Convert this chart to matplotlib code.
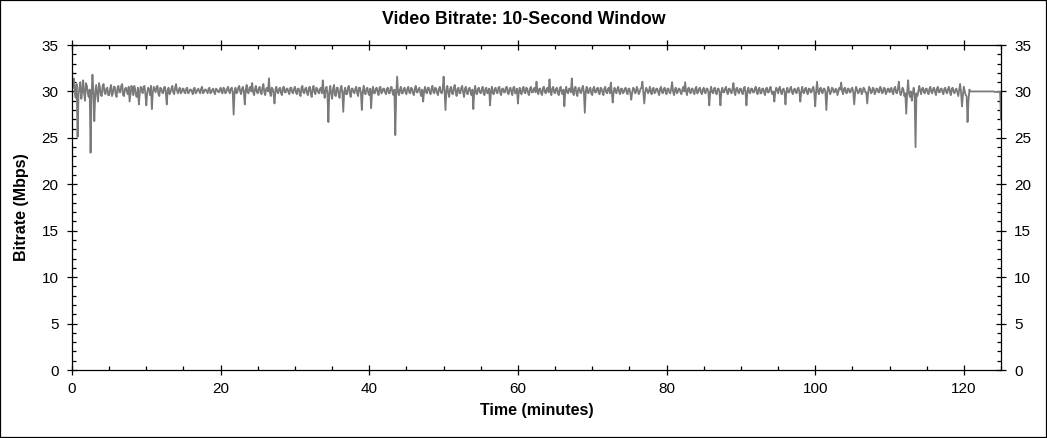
import numpy as np
import matplotlib
matplotlib.use("Agg")
import matplotlib.pyplot as plt
from matplotlib.ticker import MultipleLocator
from matplotlib.patches import Rectangle

plt.rcParams['font.family'] = ['Liberation Sans', 'DejaVu Sans']

title = "Video Bitrate: 10-Second Window"
xlabel = "Time (minutes)"
ylabel = "Bitrate (Mbps)"
x_ticks = [0, 20, 40, 60, 80, 100, 120]
y_ticks = [0, 5, 10, 15, 20, 25, 30, 35]

time_step_min = 0.25  # samples on the quarter minute
bitrate_mbps = [
    # 0.00 - 4.75
    30.2, 31.4, 29.3, 25.1, 30.4, 29.2, 31.2, 29.0, 30.6, 29.4, 23.4, 31.8, 26.8, 30.7, 28.9, 30.5, 29.5, 30.8, 29.7, 30.4,
    # 5.00 - 9.75
    29.6, 30.7, 29.8, 30.5, 29.4, 30.6, 29.9, 30.8, 29.5, 30.4, 29.7, 28.9, 30.6, 29.6, 30.3, 29.4, 28.6, 30.5, 29.8, 30.6,
    # 10.00 - 14.75
    28.5, 30.4, 29.6, 28.1, 30.5, 29.9, 30.6, 29.5, 30.3, 29.8, 30.5, 28.6, 30.4, 29.9, 30.6, 29.7, 30.8, 29.8, 30.4, 29.9,
    # 15.00 - 19.75
    30.3, 29.8, 30.4, 29.9, 30.2, 29.7, 30.4, 29.9, 30.3, 29.8, 30.5, 29.9, 30.2, 29.8, 30.4, 29.9, 30.3, 29.7, 30.2, 29.9,
    # 20.00 - 24.75
    30.4, 29.8, 30.3, 29.9, 30.5, 29.8, 30.4, 27.5, 30.4, 29.9, 30.6, 29.7, 30.5, 28.6, 30.7, 29.8, 30.5, 30.9, 29.6, 30.6,
    # 25.00 - 29.75
    29.8, 30.5, 29.7, 30.8, 29.6, 30.4, 31.4, 29.5, 30.3, 28.7, 30.5, 29.8, 30.4, 29.6, 30.5, 29.9, 30.3, 29.7, 30.4, 29.8,
    # 30.00 - 34.75
    30.5, 29.7, 30.3, 29.5, 30.6, 29.8, 30.4, 29.6, 30.5, 29.4, 30.6, 29.7, 30.3, 29.8, 30.4, 31.2, 29.3, 30.5, 26.7, 30.6,
    # 35.00 - 39.75
    29.2, 30.7, 29.5, 30.4, 29.3, 30.6, 27.8, 30.4, 29.7, 30.6, 29.4, 30.3, 29.8, 30.5, 29.5, 30.4, 28.0, 30.6, 29.7, 30.4,
    # 40.00 - 44.75
    29.6, 28.2, 30.5, 29.8, 30.4, 29.6, 30.5, 29.9, 30.3, 29.7, 30.4, 29.8, 30.5, 29.6, 25.3, 31.6, 29.6, 30.5, 29.8, 30.4,
    # 45.00 - 49.75
    29.7, 30.5, 29.8, 30.3, 29.6, 30.6, 29.9, 30.4, 29.5, 28.9, 30.5, 29.8, 30.4, 29.7, 30.6, 29.8, 30.3, 29.6, 30.5, 29.8,
    # 50.00 - 54.75
    31.6, 28.0, 30.6, 29.4, 30.5, 29.7, 30.7, 29.5, 30.4, 29.8, 30.6, 29.4, 30.5, 29.7, 30.4, 29.6, 28.1, 30.6, 29.7, 30.4,
    # 55.00 - 59.75
    29.8, 30.5, 29.6, 30.4, 29.9, 28.5, 30.5, 29.7, 30.4, 29.8, 30.5, 29.6, 30.3, 29.9, 30.5, 29.7, 30.4, 29.6, 30.5, 29.8,
    # 60.00 - 64.75
    28.7, 30.4, 29.7, 30.5, 29.8, 30.3, 29.6, 30.5, 29.9, 30.4, 31.05, 29.7, 30.3, 29.6, 30.5, 29.8, 30.4, 31.3, 29.6, 30.5,
    # 65.00 - 69.75
    29.8, 30.4, 29.6, 30.5, 29.7, 28.4, 30.5, 29.8, 30.3, 31.4, 29.6, 30.5, 29.5, 30.4, 29.8, 30.6, 27.7, 30.5, 29.8, 30.4,
    # 70.00 - 74.75
    29.6, 30.5, 29.9, 30.4, 29.7, 30.3, 29.6, 30.5, 29.8, 30.4, 30.95, 28.8, 30.4, 29.8, 30.5, 29.7, 30.3, 29.9, 30.4, 29.7,
    # 75.00 - 79.75
    30.3, 29.1, 30.4, 29.8, 30.5, 29.7, 30.3, 31.05, 28.7, 30.4, 29.8, 30.5, 29.7, 30.4, 29.9, 30.3, 29.6, 30.5, 29.8, 30.4,
    # 80.00 - 84.75
    29.7, 30.3, 29.8, 31.0, 29.6, 30.4, 29.9, 30.3, 29.7, 30.5, 31.0, 29.6, 30.4, 29.8, 30.3, 29.7, 30.5, 29.9, 30.4, 29.7,
    # 85.00 - 89.75
    30.4, 29.8, 30.3, 28.5, 30.5, 29.8, 30.4, 29.7, 30.3, 28.5, 30.4, 29.9, 30.5, 29.7, 30.3, 29.8, 30.9, 29.6, 30.4, 29.8,
    # 90.00 - 94.75
    30.3, 29.7, 30.5, 28.5, 30.4, 29.8, 30.3, 29.9, 30.5, 29.7, 30.4, 29.8, 30.3, 29.6, 30.4, 29.9, 30.5, 29.7, 28.9, 30.4,
    # 95.00 - 99.75
    29.8, 30.5, 29.7, 30.3, 28.6, 30.4, 29.9, 30.5, 29.7, 30.3, 29.8, 30.4, 28.9, 30.5, 29.8, 30.4, 29.7, 30.3, 29.9, 30.5,
    # 100.00 - 104.75
    28.4, 31.05, 29.7, 30.4, 29.8, 30.3, 28.0, 30.5, 29.7, 30.4, 29.9, 30.3, 29.6, 30.4, 30.95, 29.7, 30.4, 29.8, 30.3, 29.9,
    # 105.00 - 109.75
    30.4, 28.6, 30.5, 29.8, 30.3, 29.7, 30.4, 29.9, 28.7, 30.5, 29.8, 30.4, 29.7, 30.3, 29.9, 30.5, 29.8, 30.4, 29.7, 30.3,
    # 110.00 - 114.75
    29.9, 30.4, 29.7, 30.5, 29.8, 31.05, 29.6, 30.4, 29.5, 27.6, 31.2, 29.4, 29.0, 30.4, 24.0, 29.5, 30.6, 29.7, 30.4, 29.8,
    # 115.00 - 119.75
    30.3, 29.7, 30.5, 29.8, 30.4, 29.6, 30.5, 29.9, 30.3, 29.7, 30.4, 29.8, 30.5, 29.6, 30.4, 29.8, 30.3, 29.5, 30.8, 28.4,
    # 120.00 - 124.75
    30.5, 29.6, 26.7, 30.2, 30.0, 30.0, 30.0, 30.0, 30.0, 30.0, 30.0, 30.0, 30.0, 30.0, 30.0, 30.0, 30.0, 29.95, 29.95, 29.95,
    # 125.00
    27.0,
]

# samples in between, at x.125 / x.375 / x.625 / x.875 minutes
bitrate_mid_mbps = [
    # 0.125 - 4.875
    30.6, 29.8, 30.8, 29.6, 31.0, 30.0, 29.8, 30.9, 29.8, 30.2, 29.5, 30.2, 29.6, 29.8, 30.9, 29.6, 30.6, 29.9, 30.3, 29.6,
    # 5.125 - 9.875
    30.3, 29.5, 30.5, 29.7, 30.4, 29.9, 30.6, 29.6, 30.3, 30.0, 30.5, 29.8, 30.2, 30.6, 29.5, 30.4, 29.9, 30.2, 30.5, 29.7,
    # 10.125 - 14.875
    29.9, 30.2, 30.6, 29.9, 30.2, 30.5, 29.7, 30.4, 29.9, 30.4, 29.8, 30.2, 29.7, 30.3, 29.9, 30.4, 30.1, 30.2, 29.8, 30.3,
    # 15.125 - 19.875
    29.9, 30.3, 29.8, 30.2, 30.0, 30.3, 29.8, 30.2, 30.0, 30.3, 29.8, 30.2, 30.0, 30.3, 29.8, 30.2, 29.9, 30.3, 30.0, 30.2,
    # 20.125 - 24.875
    29.9, 30.4, 29.8, 30.3, 30.0, 30.3, 29.9, 30.0, 29.8, 30.4, 30.0, 30.3, 29.9, 30.2, 29.9, 30.4, 30.0, 29.9, 30.3, 29.9,
    # 25.125 - 29.875
    30.3, 29.9, 30.4, 29.9, 30.3, 30.0, 29.9, 30.4, 29.7, 30.2, 29.9, 30.3, 29.8, 30.4, 29.9, 30.3, 29.9, 30.4, 29.9, 30.3,
    # 30.125 - 34.875
    29.9, 30.3, 29.8, 30.4, 29.9, 30.3, 29.8, 30.4, 29.8, 30.3, 29.9, 30.4, 29.9, 30.3, 29.8, 30.0, 30.2, 29.7, 30.0, 29.8,
    # 35.125 - 39.875
    30.3, 29.6, 30.4, 29.7, 30.3, 29.9, 30.0, 29.7, 30.4, 29.8, 30.3, 29.9, 30.3, 29.8, 30.4, 29.8, 30.0, 29.8, 30.3, 29.8,
    # 40.125 - 44.875
    30.3, 30.0, 29.8, 30.3, 29.9, 30.4, 29.8, 30.3, 29.9, 30.3, 29.8, 30.4, 29.9, 30.2, 29.8, 29.9, 30.2, 29.8, 30.3, 29.9,
    # 45.125 - 49.875
    30.3, 29.9, 30.4, 29.8, 30.3, 29.9, 30.3, 29.8, 30.2, 30.0, 29.9, 30.4, 29.9, 30.3, 29.9, 30.4, 29.8, 30.3, 29.9, 30.2,
    # 50.125 - 54.875
    30.1, 30.0, 29.9, 30.3, 29.8, 30.4, 29.9, 30.3, 29.8, 30.4, 29.9, 30.3, 29.8, 30.3, 29.9, 30.2, 30.0, 29.8, 30.3, 29.9,
    # 55.125 - 59.875
    30.2, 29.8, 30.3, 29.8, 30.3, 30.0, 29.8, 30.3, 29.9, 30.4, 29.8, 30.3, 29.9, 30.4, 29.8, 30.3, 29.9, 30.4, 29.8, 30.3,
    # 60.125 - 64.875
    30.0, 29.8, 30.3, 29.9, 30.4, 29.8, 30.3, 29.9, 30.3, 29.9, 30.0, 30.3, 29.8, 30.4, 29.9, 30.3, 29.9, 30.0, 30.3, 29.9,
    # 65.125 - 69.875
    30.3, 29.8, 30.3, 29.9, 30.2, 30.0, 29.9, 30.3, 29.9, 30.0, 30.3, 29.8, 30.3, 29.9, 30.3, 29.9, 30.0, 29.9, 30.3, 29.8,
    # 70.125 - 74.875
    30.3, 29.9, 30.3, 29.8, 30.4, 29.9, 30.3, 29.9, 30.3, 29.8, 30.0, 29.9, 30.0, 30.3, 29.9, 30.3, 29.8, 30.3, 29.9, 30.3,
    # 75.125 - 79.875
    29.8, 29.9, 30.3, 29.9, 30.2, 29.9, 30.4, 29.9, 29.9, 30.2, 30.0, 29.9, 30.3, 29.8, 30.3, 29.9, 30.3, 29.9, 30.3, 29.9,
    # 80.125 - 84.875
    30.3, 29.9, 30.3, 30.0, 30.2, 29.8, 30.3, 29.9, 30.2, 30.0, 30.0, 30.3, 29.9, 30.3, 29.9, 30.3, 29.8, 30.3, 29.9, 30.2,
    # 85.125 - 89.875
    29.9, 30.3, 29.9, 30.0, 29.9, 30.3, 29.8, 30.3, 29.9, 30.0, 29.9, 30.3, 29.9, 30.3, 29.9, 30.3, 29.9, 30.3, 29.9, 30.3,
    # 90.125 - 94.875
    29.9, 30.3, 29.9, 30.0, 29.9, 30.3, 29.9, 30.3, 29.9, 30.3, 29.8, 30.3, 29.9, 30.3, 29.9, 30.3, 29.9, 30.0, 29.9, 30.2,
    # 95.125 - 99.875
    30.3, 29.9, 30.2, 29.9, 30.0, 29.9, 30.3, 29.9, 30.2, 29.9, 30.3, 29.9, 30.0, 29.9, 30.3, 29.9, 30.3, 29.9, 30.3, 29.9,
    # 100.125 - 104.875
    30.0, 30.0, 30.3, 29.9, 30.3, 29.9, 29.9, 30.2, 29.9, 30.3, 29.9, 30.2, 30.0, 30.2, 30.0, 30.3, 29.9, 30.3, 29.9, 30.3,
    # 105.125 - 109.875
    29.9, 29.9, 30.2, 29.9, 30.3, 29.9, 30.3, 29.9, 29.9, 30.3, 29.9, 30.3, 29.9, 30.3, 29.9, 30.3, 29.9, 30.3, 29.9, 30.3,
    # 110.125 - 114.875
    30.2, 29.9, 30.3, 29.9, 30.3, 30.0, 29.9, 30.2, 29.8, 29.9, 29.8, 30.0, 29.8, 29.6, 29.8, 30.0, 30.1, 30.3, 29.9, 30.3,
    # 115.125 - 119.875
    29.9, 30.3, 29.9, 30.3, 29.9, 30.3, 29.9, 30.3, 29.9, 30.3, 29.9, 30.3, 29.9, 30.3, 29.9, 30.2, 29.9, 30.2, 29.9, 29.6,
    # 120.125 - 124.875
    30.0, 29.5, 29.0, 30.0, 30.0, 30.0, 30.0, 30.0, 30.0, 30.0, 30.0, 30.0, 30.0, 30.0, 30.0, 30.0, 29.95, 29.95, 29.95, 29.95,
]

# merge both sample sets into one time-ordered series
t_main = np.arange(len(bitrate_mbps)) * time_step_min
t_mid = np.arange(len(bitrate_mid_mbps)) * time_step_min + time_step_min / 2
keep = t_mid < t_main[-1]
t_all = np.concatenate([t_main, t_mid[keep]])
v_all = np.concatenate([np.asarray(bitrate_mbps), np.asarray(bitrate_mid_mbps)[keep]])
order = np.argsort(t_all, kind='stable')
time_min = t_all[order]
values = v_all[order]

W, H = 1047, 438
fig = plt.figure(figsize=(W / 100, H / 100), dpi=100)
ax = fig.add_axes([72 / W, 1 - 370 / H, (1001 - 72) / W, (370 - 45) / H])

ax.plot(time_min, values, color='#7a7a7a', lw=1.3)

ax.set_xlim(0, 125)
ax.set_ylim(0, 35)
ax.set_xticks(x_ticks)
ax.set_yticks(y_ticks)
ax.xaxis.set_minor_locator(MultipleLocator(5))
ax.yaxis.set_minor_locator(MultipleLocator(1))

for sp in ax.spines.values():
    sp.set_linewidth(0.9)
    sp.set_color('black')

ax.tick_params(which='major', direction='inout', length=7.2, width=0.9,
               top=True, right=True, labelright=True, labelsize=11,
               colors='black', pad=5)
ax.tick_params(which='minor', direction='in', length=2.6, width=0.9,
               top=True, right=True)
ax.tick_params(axis='y', which='major', pad=6)

ax.set_xlabel(xlabel, fontsize=11.5, fontweight='bold', labelpad=5)
ax.set_ylabel(ylabel, fontsize=11.5, fontweight='bold', labelpad=9)
fig.text(0.5, 1 - 20 / H, title, ha='center', va='center',
         fontsize=12.8, fontweight='bold')

fig.patches.append(Rectangle((0, 0), 1, 1, transform=fig.transFigure,
                             fill=False, ec='black', lw=1.6))

fig.savefig('out.png', dpi=100)
